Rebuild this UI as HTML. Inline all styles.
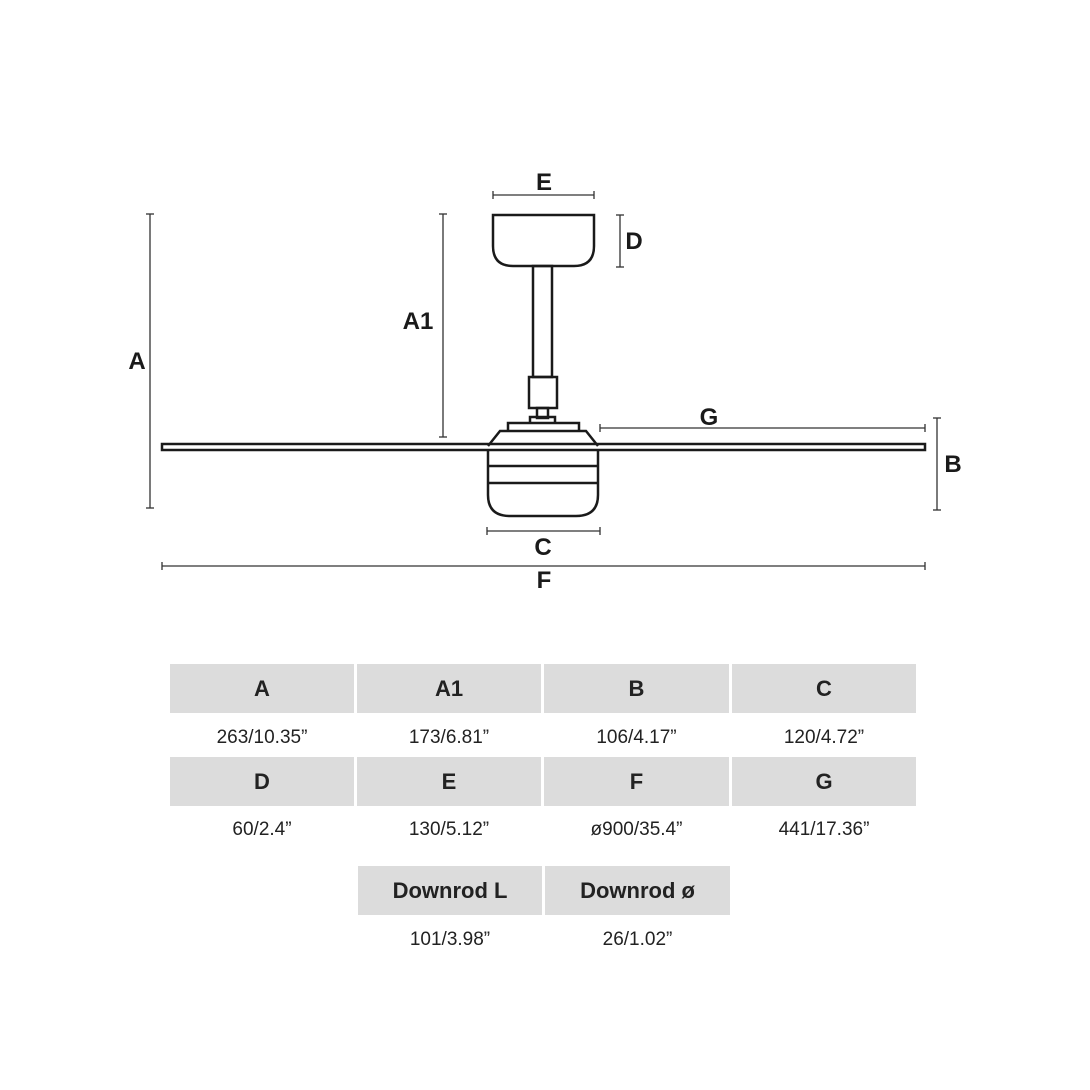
<!DOCTYPE html>
<html><head><meta charset="utf-8"><style>
body{margin:0;width:1090px;height:1090px;background:#fff;overflow:hidden;position:relative;font-family:"Liberation Sans",sans-serif;}
.h{position:absolute;background:#dcdcdc;height:49px;line-height:49px;text-align:center;font-weight:bold;font-size:22px;color:#222;}
.v{position:absolute;text-align:center;font-size:19px;color:#222;line-height:24px;}
</style></head><body>
<svg width="1090" height="620" style="position:absolute;left:0;top:0" xmlns="http://www.w3.org/2000/svg">
<g fill="none" stroke="#1a1a1a" stroke-width="2.5">
<path d="M493 215 H594 V246 Q594 266 574 266 H513 Q493 266 493 246 Z"/>
<rect x="533" y="266" width="19" height="111"/>
<rect x="529" y="377" width="28" height="31"/>
<rect x="537" y="408" width="11" height="10"/>
<path d="M530 423 V417 H555 V423"/>
<path d="M508 431 V423 H579 V431"/>
<path d="M488 446 L500 431 H586 L598 446"/>
<rect x="162" y="444" width="763" height="6"/>
<path d="M488 450 V495 Q488 516 510 516 H576 Q598 516 598 495 V450"/>
<line x1="488" y1="466" x2="598" y2="466"/>
<line x1="488" y1="483" x2="598" y2="483"/>
</g>
<g stroke="#333" stroke-width="1.3">
<line x1="493" y1="195" x2="594" y2="195"/><line x1="493" y1="191" x2="493" y2="199"/><line x1="594" y1="191" x2="594" y2="199"/>
<line x1="620" y1="215" x2="620" y2="267"/><line x1="616" y1="215" x2="624" y2="215"/><line x1="616" y1="267" x2="624" y2="267"/>
<line x1="150" y1="214" x2="150" y2="508"/><line x1="146" y1="214" x2="154" y2="214"/><line x1="146" y1="508" x2="154" y2="508"/>
<line x1="443" y1="214" x2="443" y2="437"/><line x1="439" y1="214" x2="447" y2="214"/><line x1="439" y1="437" x2="447" y2="437"/>
<line x1="600" y1="428" x2="925" y2="428"/><line x1="600" y1="424" x2="600" y2="432"/><line x1="925" y1="424" x2="925" y2="432"/>
<line x1="937" y1="418" x2="937" y2="510"/><line x1="933" y1="418" x2="941" y2="418"/><line x1="933" y1="510" x2="941" y2="510"/>
<line x1="487" y1="531" x2="600" y2="531"/><line x1="487" y1="527" x2="487" y2="535"/><line x1="600" y1="527" x2="600" y2="535"/>
<line x1="162" y1="566" x2="925" y2="566"/><line x1="162" y1="562" x2="162" y2="570"/><line x1="925" y1="562" x2="925" y2="570"/>
</g>
<g font-family="Liberation Sans,sans-serif" font-weight="bold" font-size="24" fill="#1a1a1a" text-anchor="middle">
<text x="544" y="190">E</text><text x="634" y="249">D</text><text x="137" y="369">A</text>
<text x="418" y="329">A1</text><text x="709" y="425">G</text><text x="953" y="472">B</text>
<text x="543" y="555">C</text><text x="544" y="588">F</text>
</g>
</svg>
<div class="h" style="left:170px;top:664px;width:184px">A</div>
<div class="h" style="left:357px;top:664px;width:184px">A1</div>
<div class="h" style="left:544px;top:664px;width:185px">B</div>
<div class="h" style="left:732px;top:664px;width:184px">C</div>
<div class="v" style="left:170px;top:726px;width:184px">263/10.35”</div>
<div class="v" style="left:357px;top:726px;width:184px">173/6.81”</div>
<div class="v" style="left:544px;top:726px;width:185px">106/4.17”</div>
<div class="v" style="left:732px;top:726px;width:184px">120/4.72”</div>
<div class="h" style="left:170px;top:757px;width:184px">D</div>
<div class="h" style="left:357px;top:757px;width:184px">E</div>
<div class="h" style="left:544px;top:757px;width:185px">F</div>
<div class="h" style="left:732px;top:757px;width:184px">G</div>
<div class="v" style="left:170px;top:818px;width:184px">60/2.4”</div>
<div class="v" style="left:357px;top:818px;width:184px">130/5.12”</div>
<div class="v" style="left:544px;top:818px;width:185px">ø900/35.4”</div>
<div class="v" style="left:732px;top:818px;width:184px">441/17.36”</div>
<div class="h" style="left:358px;top:866px;width:184px">Downrod L</div>
<div class="h" style="left:545px;top:866px;width:185px">Downrod ø</div>
<div class="v" style="left:358px;top:928px;width:184px">101/3.98”</div>
<div class="v" style="left:545px;top:928px;width:185px">26/1.02”</div>
</body></html>
